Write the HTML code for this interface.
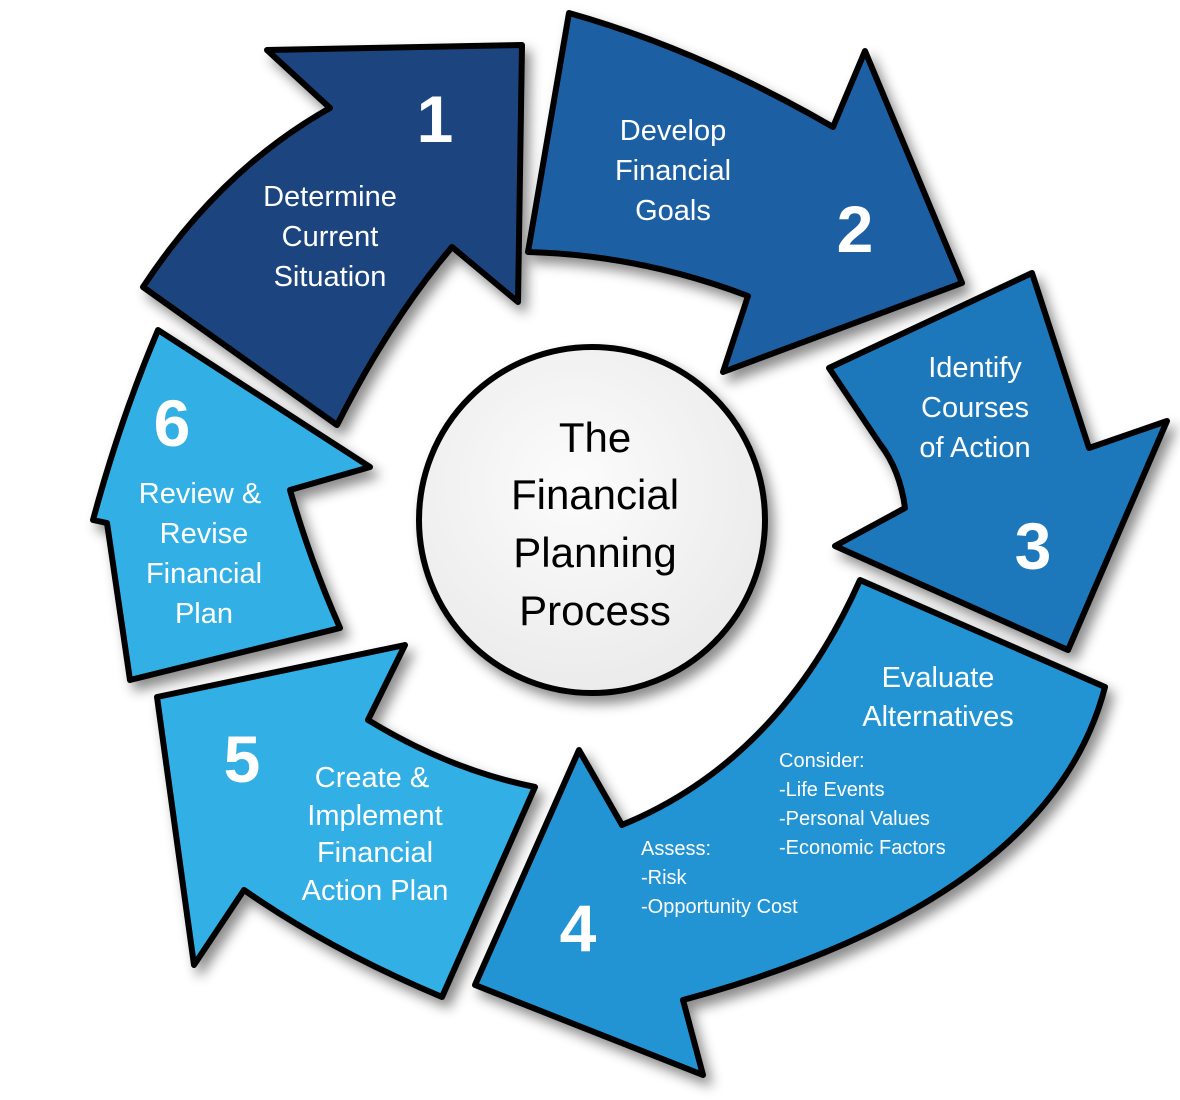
<!DOCTYPE html>
<html><head><meta charset="utf-8"><style>
html,body{margin:0;padding:0;background:#fff;}
svg{display:block;}
text{font-family:"Liberation Sans",sans-serif;fill:#fff;text-anchor:middle;}
.t{font-size:29px;}
.n{font-size:66px;font-weight:bold;}
.s{font-size:20px;text-anchor:start;}
.c{font-size:42px;fill:#000;}
</style></head><body>
<svg width="1180" height="1100" viewBox="0 0 1180 1100">
<defs>
<filter id="sh" x="-20%" y="-20%" width="140%" height="140%">
<feDropShadow dx="6" dy="8" stdDeviation="6" flood-color="#000" flood-opacity="0.45"/>
</filter>
<radialGradient id="cg" cx="45%" cy="40%" r="60%">
<stop offset="0" stop-color="#fcfcfc"/><stop offset="1" stop-color="#ebebeb"/>
</radialGradient>
</defs>
<g stroke="#000" stroke-width="6" stroke-linejoin="round" filter="url(#sh)">
<path fill="#1f4580" d="M267,50 L522,45 L518,302 L452,247 Q390,320 337,425 L143,287 Q220,170 330,108 Z"/>
<path fill="#1e5fa3" d="M569,13 Q700,50 833,127 L865,51 L962,283 L723,372 L748,296 Q640,255 528,252 Z"/>
<path fill="#1f78bb" d="M829,368 L1032,273 L1089,448 L1167,421 L1068,650 L835,546 L905,508 Q900,470 880,444 Z"/>
<path fill="#2494d4" d="M860,580 L1105,687 Q1050,900 683,1000 L703,1075 L475,985 L579,750 L622,825 Q780,760 860,580 Z"/>
<path fill="#31afe5" d="M157,697 L405,645 L368,720 Q450,770 535,787 L442,997 Q330,950 244,890 L194,965 Z"/>
<path fill="#31afe5" d="M158,330 L370,467 L290,490 Q310,560 340,628 L130,680 L107,523 L93,520 Q120,420 158,330 Z"/>
<circle cx="592" cy="520" r="173" fill="url(#cg)"/>
</g>
<text class="n" x="435" y="142">1</text>
<text class="t" x="330" y="206">Determine</text>
<text class="t" x="330" y="246">Current</text>
<text class="t" x="330" y="286">Situation</text>
<text class="t" x="673" y="140">Develop</text>
<text class="t" x="673" y="180">Financial</text>
<text class="t" x="673" y="220">Goals</text>
<text class="n" x="855" y="252">2</text>
<text class="t" x="975" y="377">Identify</text>
<text class="t" x="975" y="417">Courses</text>
<text class="t" x="975" y="457">of Action</text>
<text class="n" x="1033" y="569">3</text>
<text class="c" x="595" y="452">The</text>
<text class="c" x="595" y="509">Financial</text>
<text class="c" x="595" y="567">Planning</text>
<text class="c" x="595" y="625">Process</text>
<text class="n" x="172" y="446">6</text>
<text class="t" x="200" y="503">Review &amp;</text>
<text class="t" x="204" y="543">Revise</text>
<text class="t" x="204" y="583">Financial</text>
<text class="t" x="204" y="623">Plan</text>
<text class="n" x="242" y="782">5</text>
<text class="t" x="372" y="787">Create &amp;</text>
<text class="t" x="375" y="825">Implement</text>
<text class="t" x="375" y="862">Financial</text>
<text class="t" x="375" y="900">Action Plan</text>
<text class="t" x="938" y="687">Evaluate</text>
<text class="t" x="938" y="726">Alternatives</text>
<text class="s" x="779" y="767">Consider:</text>
<text class="s" x="779" y="796">-Life Events</text>
<text class="s" x="779" y="825">-Personal Values</text>
<text class="s" x="779" y="854">-Economic Factors</text>
<text class="s" x="641" y="855">Assess:</text>
<text class="s" x="641" y="884">-Risk</text>
<text class="s" x="641" y="913">-Opportunity Cost</text>
<text class="n" x="578" y="951">4</text>
</svg>
</body></html>
